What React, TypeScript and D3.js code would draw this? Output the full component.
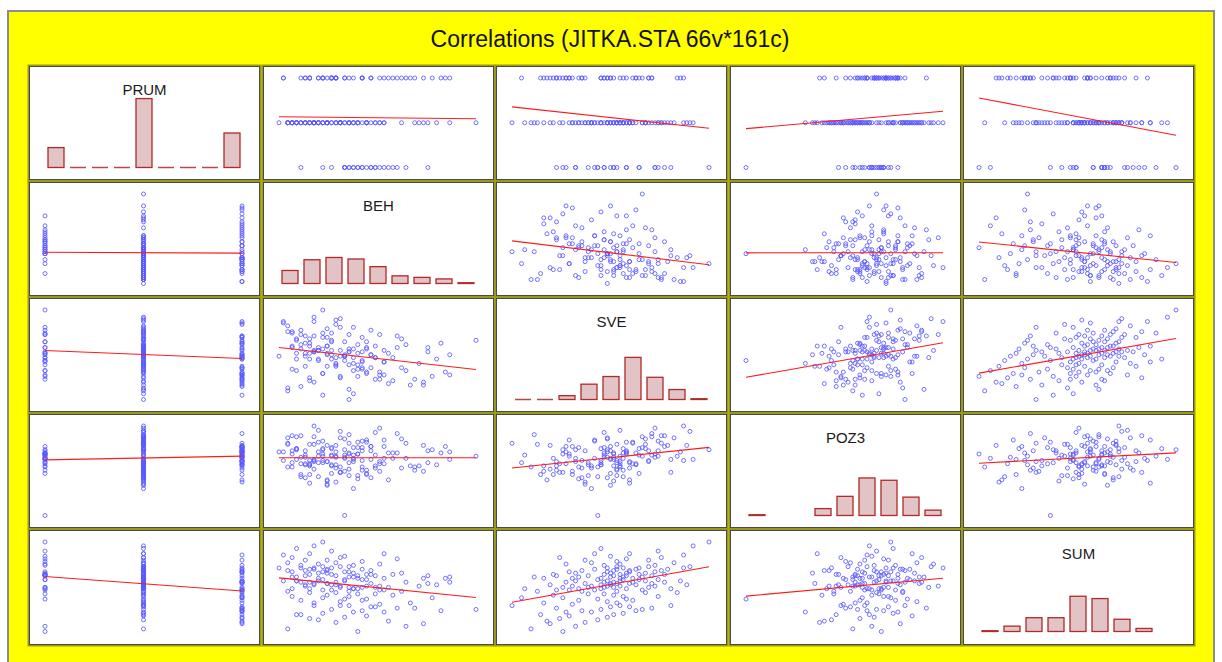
import React from 'react';
import * as d3 from 'd3';

const TITLE = 'Correlations (JITKA.STA 66v*161c)';
const VARIABLES = ['PRUM', 'BEH', 'SVE', 'POZ3', 'SUM'];

const PRUM: number[] = [
  1,2,1,3,3,3,2,3,3,2,2,3,2,2,3,3,3,2,3,3,3,3,2,2,2,2,
  2,2,3,2,3,2,1,2,3,3,3,2,3,2,2,1,2,3,
  2,2,2,3,2,3,3,2,2,2,3,2,1,2,1,1,3,2,3,2,2,2,3,
  2,1,2,2,2,3,2,2,2,2,3,2,1,3,2,3,2,2,2,2,1,3,2,
  2,2,2,1,3,3,1,2,2,2,2,2,1,3,2,2,2,1,3,2,2,
  2,2,2,2,3,1,2,2,2,3,1,3,2,2,2,3,1,2,1,2,2,2,
  3,1,1,2,2,2,1,2,3,1,2,2,1,3,2,2,1,2,2,1,
  2,3,2,2,1,2,2,3,
];

const BEH: number[] = [
  8.8,7.2,9.9,10.3,8.3,9.5,7.9,7.7,8.5,9.0,7.4,7.5,8.0,8.7,9.4,10.7,8.9,11.5,8.2,10.1,9.7,9.1,9.2,8.6,8.4,7.8,
  9.3,7.8,10.0,8.4,8.9,7.5,8.5,9.0,8.0,10.5,8.6,7.3,9.6,8.1,8.8,9.2,7.7,8.3,
  8.7,7.2,7.8,9.3,8.4,10.9,8.0,9.0,7.4,8.8,9.8,8.1,8.6,10.2,9.4,8.9,7.7,10.6,8.3,9.2,7.6,8.5,9.1,
  8.2,9.5,7.7,8.6,10.4,7.9,8.4,9.0,7.3,8.1,9.9,7.6,8.5,8.2,7.4,8.9,7.8,9.3,8.0,7.5,8.7,7.1,8.3,
  8.6,10.3,7.7,9.2,8.0,10.8,8.7,7.3,9.1,8.3,8.9,7.9,9.6,8.5,7.0,10.9,8.1,8.8,7.6,8.6,7.8,
  8.2,9.4,7.5,8.7,7.9,10.4,8.1,7.3,8.8,7.7,9.0,8.2,7.4,9.8,8.0,7.6,8.6,7.2,9.1,8.1,7.8,8.4,
  8.7,7.5,9.3,7.9,8.3,7.2,8.9,7.6,8.1,9.7,8.4,7.3,8.5,7.1,9.4,7.7,8.2,7.4,7.8,8.0,
  7.6,8.2,8.5,8.8,9.1,7.9,10.1,8.3,
];

const SVE: (number | null)[] = [
  19,14,21,17,22.5,16.5,24.5,18.5,26,20,27,15.5,28.5,23.5,19.5,30.5,22,31.5,25,18,33,26.5,29.5,11,36,28,
  20.5,27.5,16,26,21.5,30,24.5,29,12.5,19,28.5,34,17.5,27,23,25.5,32,37,
  13,15,17,18,19,19.5,20,20.5,21,21.5,22,22.5,23,23.5,24,24.5,25,25,25.5,25.5,26,26,26.5,
  26.5,27,27,27.5,27.5,28,28,28.5,29,29.5,30,30.5,31,31.5,32,32.5,33,33.5,34,35,36,37.5,38.5,
  14.5,16,17.5,18,20,20.5,21,21.5,22,23,24,25,25.5,26,26,26.5,26.5,27,27,27.5,27.5,
  28,28,28.5,28.5,29,29,29.5,29.5,30,30.5,31,31,31.5,32,32.5,33,33.5,34.5,35,35.5,38,39,
  25.5,33.5,19.5,28,23.5,36.5,27.5,22.5,32.5,29,18.5,34.5,26.5,38,24,29.5,34,25,39.5,42,
  null,null,null,null,null,null,null,null,
];

const POZ3: number[] = [
  6.2,5.0,5.8,7.0,3.6,3.8,4.1,5.3,5.9,7.5,5.7,4.3,6.7,3.0,6.9,6.3,5.6,6.0,5.2,4.7,8.1,6.5,4.9,7.2,4.5,5.5,
  4.6,5.6,5.1,7.7,6.8,5.3,0.5,7.3,5.4,6.6,6.3,6.5,5.8,3.7,4.2,6.1,7.1,6.0,
  6.1,7.1,4.8,5.5,4.5,6.4,6.2,4.3,6.6,3.9,4.9,3.4,5.4,5.1,5.8,5.0,5.6,5.2,5.9,8.2,4.0,7.6,6.9,
  4.4,6.3,5.1,4.2,5.4,6.0,5.0,4.7,6.2,5.5,7.2,5.3,6.1,6.8,6.7,6.5,7.8,8.6,7.4,7.9,5.7,6.4,7.0,
  8.0,4.6,4.3,5.1,6.0,6.9,5.5,5.0,4.0,5.2,7.4,5.4,6.3,6.6,6.4,5.7,3.3,6.2,5.9,4.8,7.1,
  5.1,5.3,4.1,5.8,6.4,6.5,3.8,5.4,7.3,5.2,4.4,6.7,7.8,7.6,5.6,6.1,6.2,7.2,6.9,7.0,8.8,8.3,
  6.8,5.9,5.3,8.4,4.9,7.7,4.7,6.5,5.5,6.3,4.5,7.9,5.8,5.6,7.5,3.5,6.0,6.7,5.7,6.6,
  5.2,6.1,4.6,6.8,5.7,7.3,5.0,6.4,
];

const SUM: (number | null)[] = [
  9,11,13,15,16,17,18,19,20,21,22,22,23,24,24,25,25,26,26,27,27,28,28,29,29,29,
  30,31,31,32,33,33,34,34,35,35,36,36,37,37,38,38,39,39,
  42,40,45,41,43,47,41,44,48,42,40,46,43,44,41,49,42,45,47,43,44,48,46,
  45,43,47,40,46,48,44,49,42,46,47,45,49,41,48,43,46,44,49,47,42,48,45,
  51,50,53,52,55,50,54,51,56,52,57,50,53,55,58,51,54,52,56,59,57,
  53,50,58,51,54,52,56,55,50,57,53,58,51,54,59,52,55,56,53,57,58,59,
  60,60,61,61,62,62,63,64,64,65,66,66,67,68,69,69,71,73,75,78,
  null,null,null,null,null,null,null,null,
];

// histogram ranges (9 equal categories each)
const HIST_DOMAINS: [number, number][] = [[1, 3], [7, 11.5], [0, 45], [0, 9], [0, 90]];
const HIST_BIN_COUNT = 9;

// layout / style
const W = 1222;
const H = 662;
const GRID_LEFT = 29;
const GRID_TOP = 66;
const PITCH_X = 233.5;
const PITCH_Y = 116;
const CELL_W = 231;
const CELL_H = 114;
const EMPTY_BIN_AS_LINE = [true, true, true, false, false];
const FONT = "'Liberation Sans', Arial, Helvetica, sans-serif";

function fit(xs: number[], ys: number[]) {
  const mx = d3.mean(xs) as number;
  const my = d3.mean(ys) as number;
  let sxy = 0;
  let sxx = 0;
  for (let i = 0; i < xs.length; i++) {
    sxy += (xs[i] - mx) * (ys[i] - my);
    sxx += (xs[i] - mx) * (xs[i] - mx);
  }
  const b = sxy / sxx;
  return { a: my - b * mx, b };
}

export default function App() {
  const series: (number | null)[][] = [PRUM, BEH, SVE, POZ3, SUM];
  const n = series.length;
  const extents = series.map(
    (s) => d3.extent(s.filter((v) => v != null) as number[]) as [number, number]
  );

  const cells: React.ReactNode[] = [];

  for (let r = 0; r < n; r++) {
    for (let c = 0; c < n; c++) {
      const x0 = Math.round(GRID_LEFT + c * PITCH_X);
      const y0 = Math.round(GRID_TOP + r * PITCH_Y);
      const h = r === n - 1 ? CELL_H + 1 : CELL_H;
      const key = `${r}-${c}`;
      const content: React.ReactNode[] = [];

      if (r === c) {
        const vals = series[r].filter((v) => v != null) as number[];
        const [lo, hi] = HIST_DOMAINS[r];
        const step = (hi - lo) / HIST_BIN_COUNT;
        const thresholds = d3.range(1, HIST_BIN_COUNT).map((i) => lo + i * step);
        const bins = d3.bin().domain([lo, hi]).thresholds(thresholds)(vals);
        const xs = d3.scaleLinear().domain([0, HIST_BIN_COUNT]).range([x0 + 16, x0 + 214]);
        const base = y0 + 101.5;
        const ys = d3.scaleLinear().domain([0, 100]).range([base, base - 76.6]);
        bins.forEach((b, i) => {
          const bx = xs(i) + 3;
          const bw = xs(i + 1) - xs(i) - 6;
          if (b.length === 0) {
            if (EMPTY_BIN_AS_LINE[r]) {
              content.push(
                <line key={`b${i}`} x1={bx} x2={bx + bw} y1={base} y2={base}
                  stroke="#b84848" strokeWidth={1.5} />
              );
            }
          } else {
            const top = ys(b.length);
            content.push(
              <rect key={`b${i}`} x={bx} y={top} width={bw} height={base - top}
                fill="#e2c3c6" stroke="#b02a2a" strokeWidth={1.3} />
            );
          }
        });
        content.push(
          <text key="lbl" x={x0 + CELL_W / 2} y={y0 + 28.5} textAnchor="middle"
            fontFamily={FONT} fontSize={15} fill="#1a1a1a">{VARIABLES[r]}</text>
        );
      } else {
        const sx = series[c];
        const sy = series[r];
        const px: number[] = [];
        const py: number[] = [];
        for (let i = 0; i < sx.length; i++) {
          if (sx[i] != null && sy[i] != null) {
            px.push(sx[i] as number);
            py.push(sy[i] as number);
          }
        }
        const xScale = d3.scaleLinear().domain(extents[c]).range([x0 + 16, x0 + 213]);
        const yScale = d3.scaleLinear().domain(extents[r]).range([y0 + 101.5, y0 + 12]);
        px.forEach((xv, i) => {
          content.push(
            <circle key={`p${i}`} cx={xScale(xv)} cy={yScale(py[i])} r={2}
              fill="none" stroke="#5a5aff" strokeWidth={0.85} />
          );
        });
        const { a, b } = fit(px, py);
        const [xmin, xmax] = d3.extent(px) as [number, number];
        content.push(
          <line key="fit" x1={xScale(xmin)} y1={yScale(a + b * xmin)}
            x2={xScale(xmax)} y2={yScale(a + b * xmax)}
            stroke="#ff1a1a" strokeWidth={1.1} />
        );
      }

      cells.push(
        <g key={key}>
          <rect x={x0 - 1.5} y={y0 - 1.5} width={CELL_W + 3} height={h + 3}
            fill="#9a9a14" />
          <rect x={x0 + 0.5} y={y0 + 0.5} width={CELL_W - 1} height={h - 1}
            fill="#ffffff" stroke="#4a4a4a" strokeWidth={1} />
          {content}
        </g>
      );
    }
  }

  return (
    <svg width={W} height={H} style={{ position: 'absolute', left: 0, top: 0 }}
      xmlns="http://www.w3.org/2000/svg">
      <rect x={0} y={0} width={W} height={H} fill="#ffffff" />
      <rect x={8} y={11} width={1206} height={H + 10} fill="#ffff00"
        stroke="#8c8c8c" strokeWidth={2} />
      <text x={610} y={46.5} textAnchor="middle" fontFamily={FONT} fontSize={23}
        fill="#111111">{TITLE}</text>
      {cells}
    </svg>
  );
}
